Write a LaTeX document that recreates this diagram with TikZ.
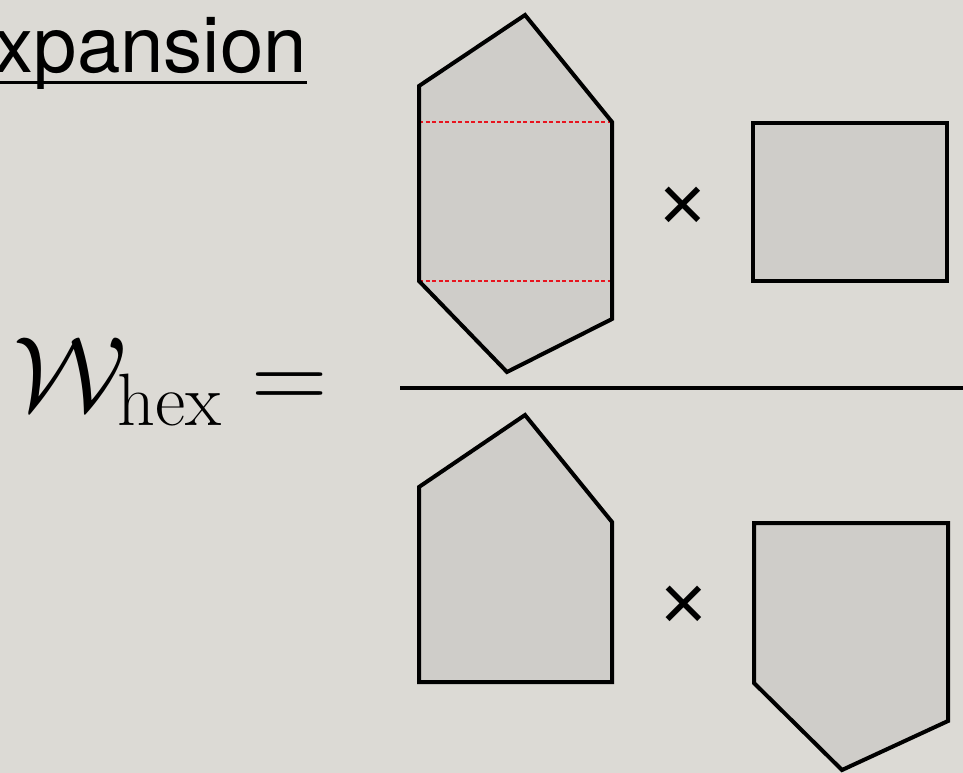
\RequirePackage{fix-cm}
\documentclass[tikz,border=0pt]{standalone}
\usepackage{fontspec}
\newfontfamily\heros{TeX Gyre Heros}
\newfontfamily\arial{Liberation Sans}
\definecolor{paper}{HTML}{DCDAD5}
\definecolor{slab}{HTML}{CFCDC9}
\definecolor{cutred}{HTML}{E8141E}
\tikzset{
  face/.style={draw=black, fill=slab, line width=4pt, line join=miter},
  cut/.style={draw=cutred, line width=1.6pt, dash pattern=on 4pt off 2.5pt},
  times/.style={font=\arial\fontsize{80}{90}\selectfont, inner sep=0pt},
}

\begin{document}
\begin{tikzpicture}[x=1pt, y=-1pt]
  \useasboundingbox (0,0) rectangle (963,773);
  \fill[paper] (0,0) rectangle (963,773);

  % heading and left-hand side
  \node[font=\heros\fontsize{78}{86}\selectfont, anchor=base east, inner sep=0pt] (title) at (307,73) {Expansion};
  \draw[line width=3pt] ([yshift=-10pt]title.base west) -- ([yshift=-10pt]title.base east);
  \node[anchor=base west, inner sep=0pt, font=\fontsize{106}{120}\selectfont] (weight) at (13,410) {$\mathcal{W}_{\mathrm{hex}} =$};

  % numerator: hexagon with two cuts, times a square
  \coordinate (h1) at (419,86);
  \coordinate (h2) at (525,15);
  \coordinate (h3) at (612,122);
  \coordinate (h4) at (612,319);
  \coordinate (h5) at (507,372);
  \coordinate (h6) at (419,281);
  \fill[slab] (h1) -- (h2) -- (h3) -- (h4) -- (h5) -- (h6) -- cycle;
  \draw[cut] (h1 |- h3) -- (h3);
  \draw[cut] (h6) -- (h4 |- h6);
  \draw[face, fill=none] (h1) -- (h2) -- (h3) -- (h4) -- (h5) -- (h6) -- cycle;
  \node[times] (times1) at (683,209) {×};
  \draw[face] (753,123) rectangle (947,281);

  % fraction bar
  \draw[line width=4pt] (400,388) -- (1000,388);

  % denominator: two pentagons
  \draw[face] (419,487) -- (525,415) -- (612,522) -- (612,682) -- (419,682) -- cycle;
  \node[times] (times2) at (684,608) {×};
  \draw[face] (754,523) -- (948,523) -- (948,721) -- (842,770) -- (754,683) -- cycle;
\end{tikzpicture}
\end{document}
